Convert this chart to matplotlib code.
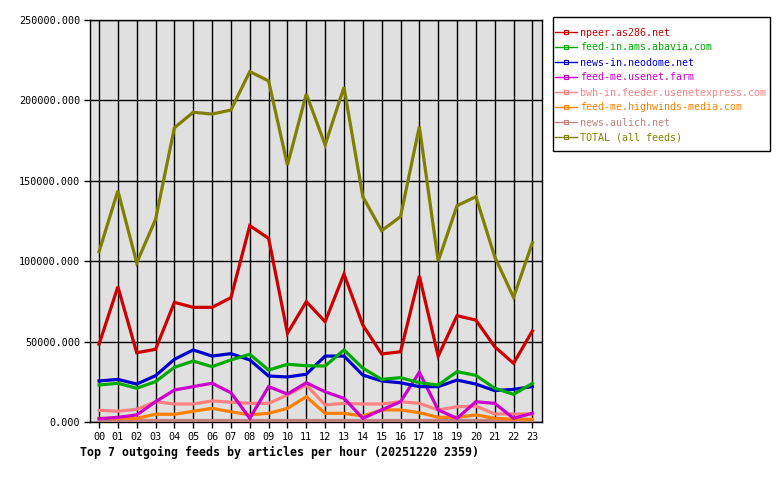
import numpy as np
import matplotlib.pyplot as plt
from matplotlib.lines import Line2D
from matplotlib.patches import Rectangle

hours = ["%02d" % h for h in range(24)]

feeds = ["npeer.as286.net",
         "feed-in.ams.abavia.com",
         "news-in.neodome.net",
         "feed-me.usenet.farm",
         "bwh-in.feeder.usenetexpress.com",
         "feed-me.highwinds-media.com",
         "news.aulich.net",
         "TOTAL (all feeds)"]

colors = ["#cc0000", "#00aa00", "#0000cc", "#cc00cc",
          "#ff8080", "#ff8000", "#c08080", "#808000"]

npeer = [48300, 84100, 43100, 45200, 74400, 71300, 71300, 77300, 122100, 114200,
         55200, 74800, 62400, 92000, 60300, 42300, 43700, 90800, 41000, 66100,
         63400, 46800, 36500, 56600]
abavia = [23000, 24100, 21000, 25100, 34000, 37900, 34400, 38600, 42100, 32300,
          35900, 35000, 34800, 44800, 33500, 26500, 27600, 24400, 23000, 31300,
          29000, 21000, 17200, 24000]
neodome = [25500, 26500, 23600, 28800, 39000, 44800, 41000, 42500, 38600, 28600,
           28000, 29700, 41000, 41000, 29200, 25500, 24400, 22000, 22000, 26100,
           23600, 19500, 20300, 22000]
usenetfarm = [2000, 2900, 4400, 12600, 19900, 22000, 24100, 18200, 2300, 22000,
              17400, 24400, 18800, 14700, 2300, 7500, 12600, 30900, 7500, 2300,
              12600, 11600, 2300, 5400]
usenetexpress = [7300, 6700, 7900, 12600, 11200, 11200, 13100, 12300, 11600, 11600,
                 16800, 23000, 10600, 11600, 11200, 11200, 12600, 11600, 7500, 9500,
                 9900, 5000, 5000, 5000]
highwinds = [2300, 2300, 2300, 4800, 4800, 6700, 8500, 6400, 4400, 5400,
             8500, 15700, 5400, 5400, 3700, 7500, 7500, 5800, 2900, 2900,
             4400, 2300, 1700, 1700]
aulich = [1000] * 24
total = [105900, 143800, 99000, 126000, 183000, 192600, 191500, 194000, 217900, 212100,
         159800, 204000, 172300, 208200, 140100, 119000, 127700, 183700, 100000, 134500,
         140100, 102800, 77500, 111500]

series = [npeer, abavia, neodome, usenetfarm, usenetexpress, highwinds, aulich, total]

mono = "DejaVu Sans Mono"

fig = plt.figure(figsize=(7.8, 4.8), dpi=100)
ax = fig.add_axes([90 / 780, 58 / 480, 452 / 780, 402 / 480])
ax.set_facecolor("#e0e0e0")

x = np.arange(24)
# draw bottom-up so TOTAL ends on top
for vals, col in zip(series[::-1], colors[::-1]):
    ax.plot(x, vals, color=col, linewidth=2.3, solid_joinstyle="miter", zorder=3)

ax.set_xlim(-0.48, 23.51)
ax.set_ylim(0, 250000)
ax.set_xticks(x)
ax.set_xticklabels(hours, fontfamily=mono, fontsize=7.3)
yt = np.arange(0, 250001, 50000)
ax.set_yticks(yt)
ax.set_yticklabels(["%.3f" % v for v in yt], fontfamily=mono, fontsize=7.3)
ax.tick_params(direction="out", length=4, width=1, color="black", pad=3)
ax.grid(True, color="black", linewidth=1, zorder=1)
ax.set_axisbelow(True)
for s in ax.spines.values():
    s.set_linewidth(1)
    s.set_color("black")

# legend box drawn separately so the padding matches the original
fig.patches.append(Rectangle((553 / 780, 1 - 151 / 480), 217 / 780, 134 / 480,
                             transform=fig.transFigure, facecolor="white",
                             edgecolor="black", linewidth=1))

handles = [Line2D([0], [0], color=c, linewidth=1, marker="s", markersize=2.5,
                  markerfacecolor="none", markeredgewidth=0.8) for c in colors]
leg = fig.legend(handles, feeds, loc="upper left",
                 bbox_to_anchor=(555 / 780, 1 - 27.5 / 480),
                 prop={"family": mono, "size": 7.2},
                 frameon=False, borderpad=0, labelspacing=0.5,
                 handlelength=2.2, handletextpad=0.3, borderaxespad=0)
for txt, c in zip(leg.get_texts(), colors):
    txt.set_color(c)

fig.text(80 / 780, 1 - 452 / 480,
         "Top 7 outgoing feeds by articles per hour (20251220 2359)",
         fontfamily=mono, fontsize=8.4, fontweight="bold", va="center", ha="left")

fig.savefig("out.png", dpi=100)
